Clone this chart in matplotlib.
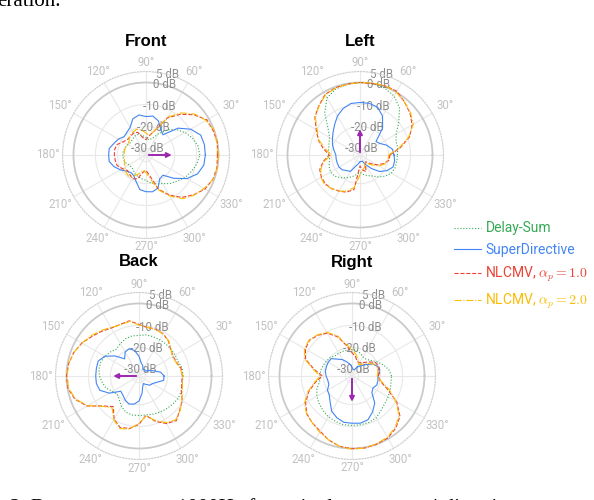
import numpy as np
import matplotlib
matplotlib.use("Agg")
import matplotlib.pyplot as plt

plt.rcParams['font.family'] = ['Roboto', 'DejaVu Sans']
plt.rcParams['mathtext.fontset'] = 'cm'

# beam pattern values in dB, read every 10 degrees (0..350)
angles_deg = list(range(0, 360, 10))

front_ds = [-8.5, -9, -10.5, -12.5, -15, -18, -22, -25, -26, -25, -24, -23,
            -23, -23.5, -24, -23.5, -23, -22.5, -22.5, -22.5, -23, -24, -24.5, -24,
            -23, -22.5, -22, -21.5, -20, -19, -18, -16, -14.5, -12.5, -11, -9.5]
front_sd = [-6.0, -6.0, -6.5, -9.5, -14, -21, -19.5, -16.5, -15, -15.5, -14.5, -15.5,
            -18.5, -19.5, -20, -18.5, -17.5, -16, -16, -16, -17.5, -19.5, -21.5, -22.5,
            -22, -20, -17, -16.3, -16, -17, -20.5, -21, -16.5, -11.5, -8, -6.3]
front_nl1 = [-0.5, 0, -0.5, -1, -4.5, -8.8, -13.5, -21, -24, -26, -25, -22,
             -21.5, -22, -22, -21, -19, -18.5, -18.6, -18.8, -19, -20.6, -22, -21.5,
             -20.5, -21.5, -25, -26, -23.5, -16.5, -12, -7.8, -4.8, -2, -0.6, -0.2]
front_nl2 = [0, -0.3, 0, -1.5, -4, -8, -13, -21, -24, -23, -21.5, -20.5,
             -21, -21.5, -23, -23.5, -23, -23, -23, -23, -22.5, -22, -21, -20.5,
             -22, -24, -26, -25, -22, -16, -11.5, -7, -4.5, -2.5, -0.5, 0]

left_ds = [-16, -15.5, -15.5, -14, -10, -5, -2, -0.5, 0, 0, -0.3, -1,
           -3, -8, -14, -17, -18, -18.5, -19, -19, -18, -17.5, -18, -19.5,
           -21, -22.5, -24, -25, -24, -23, -22, -20, -18, -16.5, -16, -16]
left_sd = [-17.5, -18, -20, -22.5, -23.5, -17, -12.5, -9.8, -9.1, -9.1, -9.2, -10.5,
           -12.5, -15, -17, -18.5, -19.7, -21, -22, -22, -22, -22, -22.5, -23.7,
           -24.4, -27.8, -29, -30, -30, -30, -28, -25, -21.3, -18.8, -17, -17]
left_nl1 = [-19.4, -14.5, -9, -5.6, -3.3, -1.5, 0.5, 0.5, 0, 0, -0.2, -0.4,
            -1.2, -3.8, -6.2, -10, -12.8, -16, -19, -16, -13.5, -12.7, -12.5, -13,
            -14, -15, -17, -28, -26, -25, -28, -29, -27, -24, -21.5, -19.5]
left_nl2 = [-20, -15, -9.5, -5, -3, -1.5, 0, 0.5, 0.3, 0, -0.3, -0.6,
            -1.5, -4, -6.5, -10.5, -13, -17, -20, -16.5, -14, -12.5, -12, -13,
            -14, -15.5, -18, -24, -26, -27, -29, -28, -26, -23, -21, -20]

back_ds = [-13, -13, -14, -14, -14, -14, -14, -14, -14, -14.5, -14.5, -15,
           -16, -17, -16, -15, -14.5, -14.5, -15, -16, -17, -19, -20, -19,
           -17, -15.5, -15, -15, -15, -14.5, -14, -13.5, -13, -12.5, -12.5, -13]
back_sd = [-21.6, -23, -26, -28, -29.5, -29, -29.5, -28, -27, -24, -21.2, -19.8,
           -20.4, -22.8, -18.8, -15, -13.2, -13.3, -13.3, -13.3, -14, -17.4, -22.2, -21.6,
           -20.4, -19.4, -20, -21.6, -25, -28, -29, -28, -26.5, -26, -24.5, -21.6]
back_nl1 = [-13.3, -13.5, -14.8, -15.1, -14.2, -12.2, -10.9, -10.4, -10.7, -9.5, -7.5, -8,
            -7.8, -6.5, -5, -3, -1.5, -0.5, 0, -0.2, -2, -5.7, -11.8, -14.8,
            -10.3, -8, -8.8, -11, -14.8, -11, -8, -6.5, -8.8, -10.3, -12.5, -13.3]
back_nl2 = [-13, -14, -15, -15.5, -14, -12, -11, -10.5, -10.5, -9.8, -7.8, -8.3,
            -7.5, -6, -4.5, -3, -1.5, -0.5, -0.3, -0.5, -2.3, -6, -11.5, -14,
            -10, -7.5, -8.5, -11.5, -14.5, -11.5, -8.5, -7, -8.5, -10.5, -12, -13]

right_ds = [-15, -16, -18, -20, -22, -23, -23, -22, -21, -21, -21, -21,
            -21, -21, -20, -19.5, -19, -18.5, -18.5, -18, -16, -14.5, -13.5, -12.5,
            -11.5, -11, -10.5, -10.5, -10.5, -10.5, -11, -12.5, -13.5, -14, -14.5, -15]
right_sd = [-21.2, -20.4, -20.5, -22, -25, -27, -28, -30, -30, -29, -27.5, -26.2,
            -24.4, -23, -20.7, -20.5, -20.6, -20.7, -21.2, -21.8, -21.8, -20.1, -19.5, -17.5,
            -14.5, -12.8, -11.6, -11.5, -11.2, -11.8, -14.2, -16.9, -21.2, -22, -21, -21]
right_nl1 = [-21, -20, -20.1, -20.7, -23, -25, -26, -26, -24, -22.4, -19, -14,
             -10.5, -8.8, -7.7, -8.5, -10.5, -15.5, -19.5, -16, -12, -8.6, -6.2, -5,
             -4, -2, -0.5, 0, 0.3, 0, -0.4, -2, -4.5, -9.5, -16, -20]
right_nl2 = [-21.5, -21, -21, -22, -24, -26, -27, -25, -23, -21, -18.5, -13.5,
             -10, -8.5, -7.5, -8, -10, -15, -18.5, -15.5, -11.5, -8, -6, -5,
             -3.5, -2, -0.5, 0.3, 0.3, -0.2, -0.8, -2.5, -5, -10, -15, -19.5]

panels = [
    ("Front", 0, front_ds, front_sd, front_nl1, front_nl2),
    ("Left", 90, left_ds, left_sd, left_nl1, left_nl2),
    ("Back", 180, back_ds, back_sd, back_nl1, back_nl2),
    ("Right", 270, right_ds, right_sd, right_nl1, right_nl2),
]
# pixel centres of each polar plot
centers = [(146, 155), (360, 155), (139, 376), (352, 376)]

labels = ["Delay-Sum", "SuperDirective", r"NLCMV, $\alpha_p = 1.0$", r"NLCMV, $\alpha_p = 2.0$"]
colors = ["#34A853", "#4285F4", "#EA4335", "#FBBC05"]
styles = [":", "-", "--", "-."]
theta_ticks = list(range(30, 360, 30))

W, H = 594, 500
R = 83.5
RMIN, RMAX = -33, 5
fig = plt.figure(figsize=(W / 100, H / 100), dpi=100)

theta = np.deg2rad(angles_deg + [360])
handles = None
for (name, target, ds, sd, nl1, nl2), (cx, cy) in zip(panels, centers):
    ax = fig.add_axes([(cx - R) / W, (H - cy - R) / H, 2 * R / W, 2 * R / H], projection='polar')
    ax.set_axisbelow(True)
    hs = []
    for vals, c, ls in zip([ds, sd, nl1, nl2], colors, styles):
        h, = ax.plot(theta, vals + vals[:1], color=c, ls=ls, lw=0.8)
        hs.append(h)
    handles = hs
    ax.annotate('', xy=(np.deg2rad(target), -20), xytext=(np.deg2rad(target), RMIN),
                arrowprops=dict(arrowstyle='-|>', color='#9C27B0', lw=1.4, mutation_scale=7))
    ax.set_ylim(RMIN, RMAX)
    ax.set_rgrids([-30, -20, -10, 0, 5], labels=['-30 dB', '-20 dB', '-10 dB', '0 dB', '5 dB'],
                  angle=75, color='#8C8C8C', fontsize=8.3)
    ax.set_thetagrids(range(0, 360, 30), labels=[''] * 12)
    ax.tick_params(axis='x', length=0)
    # angle labels, placed just outside the outer ring
    for a in theta_ticks:
        t = np.deg2rad(a)
        d = R + 4 + 10.5 * abs(np.cos(t)) + 4.5 * abs(np.sin(t))
        ax.text(t, RMIN + d * (RMAX - RMIN) / R, '%d°' % a, ha='center', va='center',
                color='#C2C2C2', fontsize=8.3, clip_on=False)
    ax.grid(True, color='#E8E8E8', lw=0.8)
    gl = ax.yaxis.get_gridlines()
    gl[3].set_color('#CACACA')
    gl[3].set_linewidth(1.3)
    ax.spines['polar'].set_linestyle(':')
    ax.spines['polar'].set_color('#D0D0D0')
    ax.spines['polar'].set_linewidth(0.8)
    for t in ax.get_yticklabels():
        t.set_ha('center')
        t.set_va('center')
    ax.text(0.5, 1 + 26 / (2 * R), name, transform=ax.transAxes, ha='center', va='baseline',
            fontsize=12, fontweight='bold', family='Liberation Sans')

leg = fig.legend(handles, labels, loc='upper left', bbox_to_anchor=(441 / W, 1 - 209 / H),
                 frameon=False, fontsize=10, handlelength=2.0, labelspacing=0.55,
                 handletextpad=0.3, labelcolor='linecolor')

# fragments of the surrounding paper text
fig.text(-0.005, 1 - 6.5 / H, "eration.", family='Liberation Serif', fontsize=15, va='baseline')
fig.text(10 / W, -0.027, "2. Beam patterns at 1000Hz for a single source at 4 directions",
         family='Liberation Serif', fontsize=15, va='baseline')

fig.savefig("out.png", dpi=100)
